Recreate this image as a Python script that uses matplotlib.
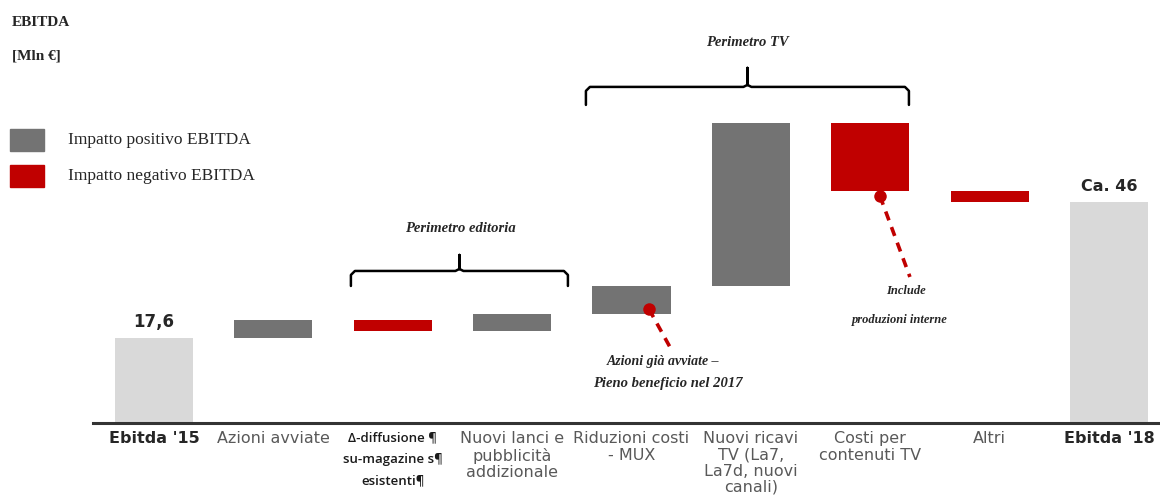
import numpy as np
import matplotlib.pyplot as plt

categories = ["Ebitda '15", "Azioni avviate", "\u0394-diffusione \u00b6\nsu-magazine s\u00b6\nesistenti\u00b6",
              "Nuovi lanci e\npubblicit\u00e0\naddizionale", "Riduzioni costi\n- MUX",
              "Nuovi ricavi\nTV (La7,\nLa7d, nuovi\ncanali)", "Costi per\ncontenuti TV", "Altri", "Ebitda '18"]
start_value = 17.6
deltas = [3.8, -2.2, 3.5, 5.8, 34.0, -14.2, -2.3]
start_label = "17,6"
end_label = "Ca. 46"

GREY = "#737373"
RED = "#C00000"
TOTAL = "#D9D9D9"

fig = plt.figure(figsize=(11.6, 5.04), dpi=100)
ax = fig.add_axes([93 / 1160, 81 / 504, 1067 / 1160, 423 / 504])

x = np.arange(len(categories))
w = 0.655
cum = start_value + np.cumsum(deltas)
prev = np.concatenate([[start_value], cum[:-1]])

ax.bar(x[0], start_value, width=w, color=TOTAL)
for i, d in enumerate(deltas):
    lo = min(prev[i], cum[i])
    ax.bar(x[i + 1], abs(d), bottom=lo, width=w, color=GREY if d > 0 else RED)
ax.bar(x[-1], cum[-1], width=w, color=TOTAL)

ax.text(x[0], start_value + 1.6, start_label, ha="center", va="bottom",
        fontsize=12, fontweight="bold", color="#262626")
ax.text(x[-1], cum[-1] + 1.7, end_label, ha="center", va="bottom",
        fontsize=11.5, fontweight="bold", color="#262626")

ax.set_xlim(-0.51, 8.426)
ax.set_ylim(0, 88.1)
for s in ["top", "right", "left"]:
    ax.spines[s].set_visible(False)
ax.spines["bottom"].set_color("#333333")
ax.spines["bottom"].set_linewidth(2.2)
ax.set_yticks([])
ax.set_xticks(x)
ax.set_xticklabels(categories, fontsize=11.5, color="#595959", linespacing=1.1, va="top")
ax.tick_params(axis="x", length=0, pad=6)
labels = ax.get_xticklabels()
for i in (0, 8):
    labels[i].set_fontweight("bold")
    labels[i].set_color("#262626")
labels[2].set_color("#1a1a1a")
labels[2].set_fontsize(9.5)
labels[2].set_linespacing(1.85)
labels[2].set_fontfamily("Open Sans")
labels[2].set_fontweight("semibold")


def px(xp, yp):
    return (xp - 154) / 119.4, (423 - yp) / 4.8


def brace(x0p, x1p, yhp, yep, ytp):
    xm = (x0p + x1p) / 2
    pts = [(x0p, yep), (x0p, yhp + 4), (x0p + 4, yhp), (xm - 4, yhp), (xm, yhp - 2), (xm, ytp),
           (xm, yhp - 2), (xm + 4, yhp), (x1p - 4, yhp), (x1p, yhp + 4), (x1p, yep)]
    xs, ys = zip(*[px(a, b) for a, b in pts])
    ax.plot(xs, ys, color="black", lw=1.8, solid_capstyle="round", solid_joinstyle="round")


serif_it = dict(family="Liberation Serif", style="italic", fontweight="bold", color="#262626")

brace(351, 568, 271, 286, 255)
ax.text(*px(460, 229), "Perimetro editoria", ha="center", va="center", fontsize=10.5, **serif_it)
brace(586, 909, 87, 105, 68)
ax.text(*px(747, 43), "Perimetro TV", ha="center", va="center", fontsize=10.5, **serif_it)

# callouts
for (d0, d1) in [((649, 309), (670, 347)), ((880, 196), (910, 277))]:
    a, b = px(*d0), px(*d1)
    ax.plot([a[0], b[0]], [a[1], b[1]], color=RED, lw=2.6, ls=(0, (2.6, 2)))
    ax.plot(*a, "o", color=RED, ms=9, mec="none")
ax.text(*px(663, 362), "Azioni gi\u00e0 avviate \u2013", ha="center", va="center", fontsize=10, **serif_it)
ax.text(*px(668, 384), "Pieno beneficio nel 2017", ha="center", va="center", fontsize=10.5, **serif_it)
ax.text(*px(906, 291), "Include", ha="center", va="center", fontsize=9, **serif_it)
ax.text(*px(900, 320), "produzioni interne", ha="center", va="center", fontsize=9, **serif_it)

# header and legend
fig.text(12 / 1160, 1 - 23 / 504, "EBITDA", fontsize=11, fontweight="bold",
         family="Liberation Serif", color="#262626", va="center")
fig.text(12 / 1160, 1 - 56 / 504, "[Mln \u20ac]", fontsize=11, fontweight="bold",
         family="Liberation Serif", color="#262626", va="center")
for yc, col, txt in [(140, GREY, "Impatto positivo EBITDA"), (176, RED, "Impatto negativo EBITDA")]:
    fig.patches.append(plt.Rectangle((10 / 1160, 1 - (yc + 11) / 504), 34 / 1160, 22 / 504,
                                     transform=fig.transFigure, color=col))
    fig.text(68 / 1160, 1 - yc / 504, txt, fontsize=12.5, family="Liberation Serif",
             color="#262626", va="center")

plt.savefig("out.png", dpi=100)
